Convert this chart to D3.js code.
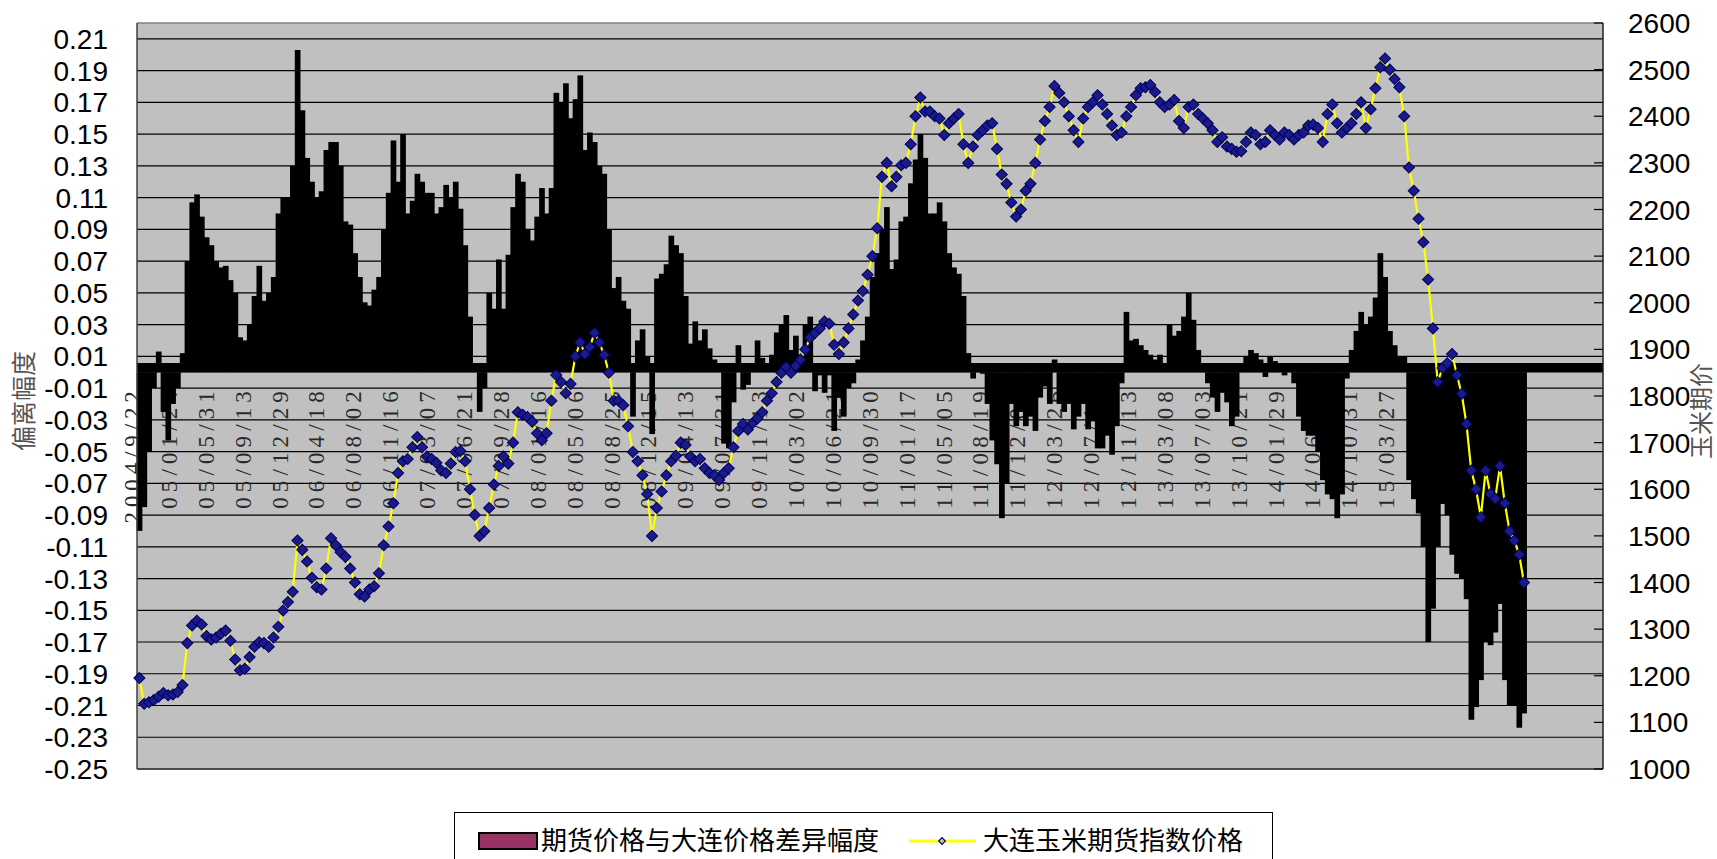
<!DOCTYPE html>
<html>
<head>
<meta charset="utf-8">
<script src="https://cdn.jsdelivr.net/npm/d3@7"></script>
<style>
  html, body { margin: 0; padding: 0; background: #ffffff; }
  svg { display: block; }
</style>
</head>
<body>
<svg id="chart" width="1717" height="859"></svg>
<script>
// Category labels on the date axis (one every 77 trading days)
const dateLabels = [
  "2004/9/22", "05/01/24", "05/05/31", "05/09/13", "05/12/29", "06/04/18", "06/08/02",
  "06/11/16", "07/03/07", "07/06/21", "07/09/28", "08/01/16", "08/05/06", "08/08/25",
  "08/12/15", "09/04/13", "09/07/31", "09/11/13", "10/03/02", "10/06/21", "10/09/30",
  "11/01/17", "11/05/05", "11/08/19", "11/12/07", "12/03/26", "12/07/13", "12/11/13",
  "13/03/08", "13/07/03", "13/10/21", "14/01/29", "14/06/09", "14/10/31", "15/03/27"
];
const labelEvery = 77;   // trading days between date labels
const sampleStep = 10;   // trading days between stored observations
const totalDays = 3060;  // length of the category axis in trading days

// 期货价格与大连价格差异幅度 (one value every 10 trading days)
const deviation = [
  -0.100, -0.085, -0.050, -0.010, 0.013, -0.025, -0.043, -0.020, -0.010, 0.012,
  0.070, 0.107, 0.112, 0.098, 0.085, 0.080, 0.070, 0.066, 0.067, 0.058,
  0.050, 0.022, 0.020, 0.030, 0.048, 0.067, 0.045, 0.050, 0.060, 0.100,
  0.110, 0.110, 0.130, 0.203, 0.165, 0.135, 0.120, 0.110, 0.114, 0.140,
  0.145, 0.145, 0.130, 0.095, 0.093, 0.075, 0.060, 0.044, 0.042, 0.052,
  0.060, 0.090, 0.113, 0.146, 0.120, 0.150, 0.100, 0.108, 0.125, 0.120,
  0.113, 0.113, 0.100, 0.104, 0.118, 0.110, 0.120, 0.103, 0.080, 0.035,
  0.003, -0.025, -0.010, 0.050, 0.040, 0.071, 0.040, 0.074, 0.104, 0.125,
  0.120, 0.090, 0.083, 0.098, 0.116, 0.100, 0.116, 0.176, 0.170, 0.182,
  0.160, 0.172, 0.187, 0.140, 0.151, 0.145, 0.130, 0.125, 0.090, 0.053,
  0.060, 0.045, 0.040, -0.028, 0.020, 0.027, 0.010, -0.039, 0.059, 0.062,
  0.068, 0.086, 0.080, 0.075, 0.048, 0.018, 0.032, 0.020, 0.027, 0.015,
  0.008, 0.003, -0.045, -0.048, -0.019, 0.017, -0.011, -0.008, 0.002, 0.020,
  0.009, 0.002, 0.011, 0.025, 0.030, 0.036, 0.014, 0.023, 0.011, 0.030,
  0.035, -0.012, -0.002, -0.013, -0.002, -0.037, -0.016, -0.028, -0.010, -0.007,
  0.008, 0.020, 0.035, 0.060, 0.075, 0.090, 0.104, 0.065, 0.071, 0.095,
  0.098, 0.119, 0.134, 0.150, 0.135, 0.100, 0.100, 0.107, 0.095, 0.075,
  0.066, 0.062, 0.048, 0.012, -0.004, 0.005, -0.001, -0.020, -0.043, -0.058,
  -0.092, -0.070, -0.020, -0.034, -0.025, -0.034, -0.028, -0.037, -0.016, -0.009,
  -0.020, 0.008, -0.020, -0.025, -0.020, -0.036, -0.028, -0.020, -0.036, -0.031,
  -0.048, -0.048, -0.040, -0.052, -0.034, -0.007, 0.038, 0.020, 0.021, 0.017,
  0.014, 0.011, 0.008, 0.011, 0.002, 0.030, 0.023, 0.026, 0.035, 0.050,
  0.033, 0.014, 0.005, -0.007, -0.016, -0.025, -0.013, -0.019, -0.034, -0.028,
  0.002, 0.010, 0.014, 0.012, 0.008, -0.003, 0.010, 0.007, 0.005, -0.002,
  0.005, -0.007, -0.028, -0.037, -0.040, -0.040, -0.050, -0.068, -0.077, -0.080,
  -0.092, -0.077, -0.004, 0.014, 0.026, 0.038, 0.030, 0.035, 0.047, 0.075,
  0.060, 0.026, 0.017, 0.010, 0.010, -0.068, -0.080, -0.089, -0.110, -0.170,
  -0.149, -0.110, -0.083, -0.090, -0.115, -0.127, -0.130, -0.143, -0.219, -0.211,
  -0.194, -0.170, -0.172, -0.164, -0.146, -0.194, -0.210, -0.210, -0.224, -0.215
];

// 大连玉米期货指数价格 (same observation dates)
const cornIndex = [
  1195, 1140, 1143, 1148, 1155, 1163, 1158, 1160, 1165, 1180,
  1270, 1308, 1318, 1310, 1285, 1278, 1282, 1290, 1297, 1275,
  1235, 1212, 1215, 1240, 1262, 1272, 1270, 1262, 1282, 1305,
  1340, 1358, 1380, 1490, 1470, 1445, 1410, 1390, 1385, 1430,
  1495, 1480, 1465, 1455, 1430, 1400, 1375, 1370, 1385, 1392,
  1420, 1480, 1520, 1570, 1635, 1660, 1665, 1690, 1712, 1690,
  1670, 1665, 1657, 1640, 1635, 1655, 1680, 1682, 1660, 1600,
  1545, 1500, 1510, 1560, 1610, 1650, 1670, 1655, 1700, 1765,
  1760, 1755, 1745, 1720, 1705, 1720, 1790, 1845, 1830, 1806,
  1826, 1885, 1915, 1890, 1905, 1935, 1915, 1888, 1850, 1790,
  1790, 1780, 1735, 1680, 1660, 1630, 1590, 1500, 1560, 1595,
  1630, 1660, 1672, 1700, 1695, 1670, 1660, 1665, 1645, 1635,
  1630, 1620, 1635, 1645, 1690, 1725, 1740, 1728, 1742, 1752,
  1765, 1790, 1806, 1830, 1850, 1862, 1850, 1865, 1878, 1900,
  1925, 1935, 1945, 1960, 1955, 1910, 1890, 1915, 1945, 1975,
  2005, 2025, 2060, 2100, 2160, 2270, 2300, 2250, 2270, 2295,
  2300, 2340, 2400, 2440, 2410, 2410, 2400, 2395, 2360, 2385,
  2395, 2405, 2340, 2300, 2335, 2360, 2370, 2380, 2385, 2330,
  2275, 2255, 2215, 2185, 2200, 2240, 2255, 2300, 2350, 2390,
  2420, 2465, 2450, 2430, 2400, 2370, 2345, 2395, 2420, 2430,
  2445, 2425, 2405, 2380, 2360, 2365, 2400, 2420, 2445, 2460,
  2462, 2467, 2452, 2430, 2420, 2425, 2435, 2390, 2375, 2420,
  2425, 2405, 2395, 2385, 2370, 2345, 2355, 2335, 2330, 2324,
  2325, 2345, 2365, 2360, 2340, 2345, 2370, 2360, 2350, 2365,
  2360, 2350, 2360, 2365, 2380, 2382, 2375, 2345, 2405, 2425,
  2385, 2365, 2375, 2385, 2405, 2430, 2375, 2415, 2460, 2505,
  2524, 2500, 2480, 2462, 2400, 2290, 2240, 2180, 2130, 2050,
  1945, 1830, 1860, 1870, 1890, 1845, 1805, 1740, 1640, 1600,
  1540, 1640, 1590, 1580, 1650, 1570, 1510, 1490, 1460, 1400
];

// Axis tick values
const leftTicks = [-0.25, -0.23, -0.21, -0.19, -0.17, -0.15, -0.13, -0.11, -0.09, -0.07, -0.05,
  -0.03, -0.01, 0.01, 0.03, 0.05, 0.07, 0.09, 0.11, 0.13, 0.15, 0.17, 0.19, 0.21];
const rightTicks = [1000, 1100, 1200, 1300, 1400, 1500, 1600, 1700, 1800, 1900, 2000,
  2100, 2200, 2300, 2400, 2500, 2600];

const seriesNames = ["期货价格与大连价格差异幅度", "大连玉米期货指数价格"];
const leftTitle = "偏离幅度";
const rightTitle = "玉米期价";

// ---- layout ----
const plot = { left: 137, right: 1603, top: 23, bottom: 769 };
const svg = d3.select("#chart");

const x = d3.scaleLinear().domain([0, totalDays]).range([plot.left, plot.right]);
const yL = d3.scaleLinear().domain([-0.25, 0.22]).range([plot.bottom, plot.top]);
const yR = d3.scaleLinear().domain([1000, 2600]).range([plot.bottom, plot.top]);

const obs = deviation.map((d, i) => ({ day: i * sampleStep, dev: d, price: cornIndex[i] }));

// plot background
svg.append("rect")
  .attr("x", plot.left).attr("y", plot.top)
  .attr("width", plot.right - plot.left).attr("height", plot.bottom - plot.top)
  .attr("fill", "#c0c0c0");

// horizontal gridlines at the left-axis ticks
svg.append("g").selectAll("line").data(leftTicks).join("line")
  .attr("x1", plot.left).attr("x2", plot.right)
  .attr("y1", d => yL(d)).attr("y2", d => yL(d))
  .attr("stroke", "#000").attr("stroke-width", 1.2);

// date labels, rotated, hanging below the zero line
const labelFont = "'Liberation Serif', 'DejaVu Serif', serif";
svg.append("g").selectAll("text").data(dateLabels).join("text")
  .attr("transform", (d, i) => `translate(${x(i * labelEvery) + 3},${yL(0) + 19}) rotate(-90)`)
  .attr("text-anchor", "end")
  .attr("font-family", labelFont)
  .attr("font-size", 23)
  .attr("textLength", d => d.length * 14.7)
  .attr("lengthAdjust", "spacing")
  .attr("fill", "#2a2a2a")
  .text(d => d);

// deviation bars
const barW = x(sampleStep) - x(0);
svg.append("g").selectAll("rect").data(obs).join("rect")
  .attr("x", d => x(d.day) - 0.3)
  .attr("width", barW + 0.9)
  .attr("y", d => Math.min(yL(d.dev), yL(0)))
  .attr("height", d => Math.abs(yL(d.dev) - yL(0)))
  .attr("fill", "#000");

// category axis drawn heavy along the zero level
svg.append("line")
  .attr("x1", plot.left).attr("x2", plot.right)
  .attr("y1", yL(0) - 4.5).attr("y2", yL(0) - 4.5)
  .attr("stroke", "#000").attr("stroke-width", 9.5);

// plot frame
svg.append("line").attr("x1", plot.left).attr("x2", plot.right)
  .attr("y1", plot.top).attr("y2", plot.top).attr("stroke", "#808080").attr("stroke-width", 1.5);
svg.append("line").attr("x1", plot.left).attr("x2", plot.right)
  .attr("y1", plot.bottom).attr("y2", plot.bottom).attr("stroke", "#404040").attr("stroke-width", 1.5);
svg.append("line").attr("x1", plot.left).attr("x2", plot.left)
  .attr("y1", plot.top).attr("y2", plot.bottom).attr("stroke", "#404040").attr("stroke-width", 1.5);
svg.append("line").attr("x1", plot.right).attr("x2", plot.right)
  .attr("y1", plot.top).attr("y2", plot.bottom).attr("stroke", "#202020").attr("stroke-width", 1.5);

// right axis inside ticks
svg.append("g").selectAll("line").data(rightTicks).join("line")
  .attr("x1", plot.right - 9).attr("x2", plot.right)
  .attr("y1", d => yR(d)).attr("y2", d => yR(d))
  .attr("stroke", "#000").attr("stroke-width", 1.2);

// price line + diamond markers
const priceX = d => x(d.day + sampleStep / 2);
svg.append("path").datum(obs)
  .attr("fill", "none").attr("stroke", "#ffff00").attr("stroke-width", 2.2)
  .attr("d", d3.line().x(priceX).y(d => yR(d.price)));

const diamond = d3.symbol(d3.symbolSquare, 62);
svg.append("g").selectAll("path").data(obs).join("path")
  .attr("transform", d => `translate(${priceX(d)},${yR(d.price)}) rotate(45)`)
  .attr("d", diamond)
  .attr("fill", "#1a1a88")
  .attr("stroke", "#000060")
  .attr("stroke-width", 1);

// tick labels
const tickFont = "'Liberation Sans', Arial, sans-serif";
svg.append("g").selectAll("text").data(leftTicks).join("text")
  .attr("x", 108).attr("y", d => yL(d)).attr("dy", "0.36em")
  .attr("text-anchor", "end")
  .attr("font-family", tickFont).attr("font-size", 28).attr("fill", "#000")
  .text(d => d3.format(".2f")(d).replace("−", "-"));

svg.append("g").selectAll("text").data(rightTicks).join("text")
  .attr("x", 1628).attr("y", d => yR(d)).attr("dy", "0.36em")
  .attr("text-anchor", "start")
  .attr("font-family", tickFont).attr("font-size", 28).attr("fill", "#000")
  .text(d => d);

// axis titles
const cjkFont = "'Noto Sans CJK SC', 'Noto Sans', sans-serif";
svg.append("text")
  .attr("transform", "translate(33,401) rotate(-90)")
  .attr("text-anchor", "middle")
  .attr("font-family", cjkFont).attr("font-size", 25).attr("fill", "#555")
  .text(leftTitle);
svg.append("text")
  .attr("transform", "translate(1710,411) rotate(-90)")
  .attr("text-anchor", "middle")
  .attr("font-family", cjkFont).attr("font-size", 24).attr("fill", "#555")
  .text(rightTitle);

// legend
const legend = svg.append("g");
legend.append("rect")
  .attr("x", 454.5).attr("y", 812.5).attr("width", 818).attr("height", 60)
  .attr("fill", "#fff").attr("stroke", "#000").attr("stroke-width", 1);
legend.append("rect")
  .attr("x", 479).attr("y", 833).attr("width", 58).attr("height", 16)
  .attr("fill", "#993366").attr("stroke", "#000").attr("stroke-width", 2);
legend.append("text")
  .attr("x", 541).attr("y", 850)
  .attr("font-family", cjkFont).attr("font-size", 26).attr("fill", "#000")
  .text(seriesNames[0]);
legend.append("line")
  .attr("x1", 909).attr("x2", 975).attr("y1", 841).attr("y2", 841)
  .attr("stroke", "#ffff00").attr("stroke-width", 3);
legend.append("path")
  .attr("transform", "translate(942,841) rotate(45)")
  .attr("d", d3.symbol(d3.symbolSquare, 22))
  .attr("fill", "#c8c8a0").attr("stroke", "#000080").attr("stroke-width", 1.2);
legend.append("text")
  .attr("x", 983).attr("y", 850)
  .attr("font-family", cjkFont).attr("font-size", 26).attr("fill", "#000")
  .text(seriesNames[1]);
</script>
</body>
</html>
